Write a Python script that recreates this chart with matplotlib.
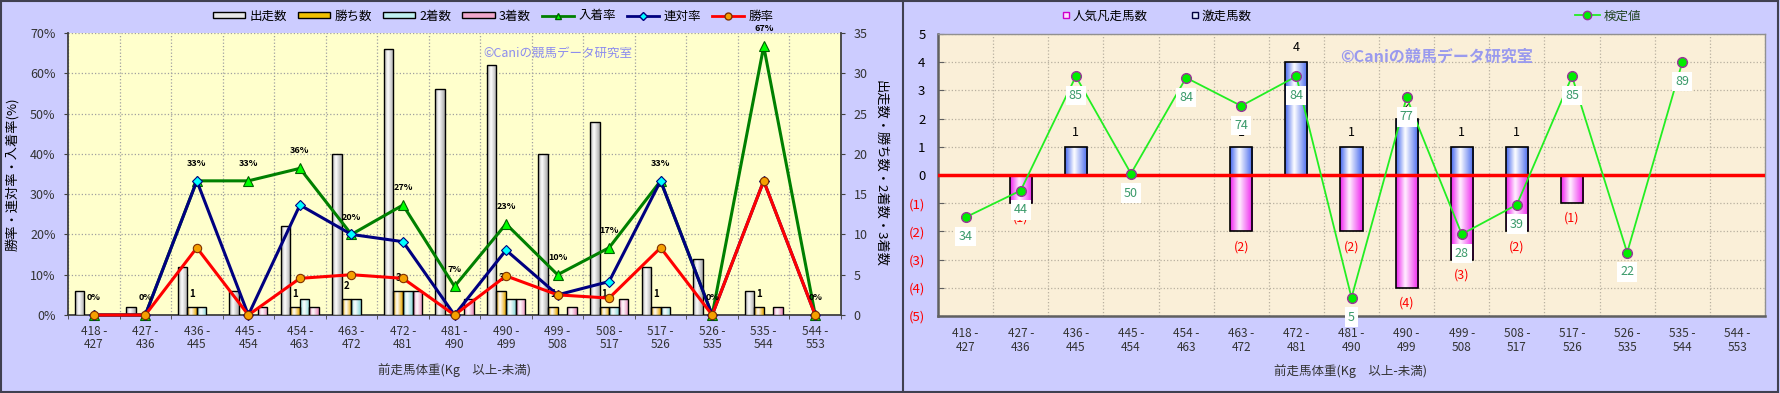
import numpy as np
import matplotlib.pyplot as plt
from matplotlib.colors import LinearSegmentedColormap
from matplotlib.lines import Line2D
from matplotlib.patches import Patch, Rectangle

plt.rcParams['font.family'] = ['Noto Sans CJK JP', 'DejaVu Sans']

W, H = 1780, 393

categories = ['418 -\n427', '427 -\n436', '436 -\n445', '445 -\n454', '454 -\n463',
              '463 -\n472', '472 -\n481', '481 -\n490', '490 -\n499', '499 -\n508',
              '508 -\n517', '517 -\n526', '526 -\n535', '535 -\n544', '544 -\n553']

# left chart: counts
runs = [3, 1, 6, 3, 11, 20, 33, 28, 31, 20, 24, 6, 7, 3, 0]
wins = [0, 0, 1, 0, 1, 2, 3, 0, 3, 1, 1, 1, 0, 1, 0]
seconds = [0, 0, 1, 0, 2, 2, 3, 0, 2, 0, 1, 1, 0, 0, 0]
thirds = [0, 0, 0, 1, 1, 0, 3, 2, 2, 1, 2, 0, 0, 1, 0]

# left chart: rates (%)
win_rate = [0, 0, 16.7, 0, 9.1, 10.0, 9.1, 0, 9.7, 5.0, 4.2, 16.7, 0, 33.3, 0]
quinella_rate = [0, 0, 33.3, 0, 27.3, 20.0, 18.2, 0, 16.1, 5.0, 8.3, 33.3, 0, 33.3, 0]
place_rate = [0, 0, 33.3, 33.3, 36.4, 20.0, 27.3, 7.1, 22.6, 10.0, 16.7, 33.3, 0, 66.7, 0]
place_labels = ['0%', '0%', '33%', '33%', '36%', '20%', '27%', '7%', '23%', '10%',
                '17%', '33%', '0%', '67%', '0%']

# right chart
surge = [0, 0, 1, 0, 0, 1, 4, 1, 2, 1, 1, 0, 0, 0, 0]
flop = [0, -1, 0, 0, 0, -2, 0, -2, -4, -3, -2, -1, 0, 0, 0]
test_pos = [-1.5, -0.55, 3.5, 0.05, 3.45, 2.45, 3.5, -4.35, 2.75, -2.1, -1.05, 3.5, -2.75, 4.0, np.nan]
test_labels = ['34', '44', '85', '50', '84', '74', '84', '5', '77', '28', '39', '85', '22', '89', '']

x = np.arange(len(categories))


def shade(ax, bars, color, mid='white'):
    cmap = LinearSegmentedColormap.from_list('g', [(0, color), (0.4, mid), (1, color)])
    grad = np.linspace(0, 1, 64).reshape(1, -1)
    for b in bars:
        h = b.get_height()
        if h == 0:
            b.set_visible(False)
            continue
        bx, by = b.get_xy()
        im = ax.imshow(grad, cmap=cmap, extent=(bx, bx + b.get_width(), by, by + h),
                       aspect='auto', interpolation='bicubic', zorder=b.get_zorder() - 0.1)
        im.set_clip_path(b)


def px_axes(l, t, r, b):
    return fig.add_axes([l / W, 1 - b / H, (r - l) / W, (b - t) / H])


fig = plt.figure(figsize=(W / 100, H / 100), dpi=100)
fig.patch.set_facecolor('#CCCCFF')
fig.add_artist(Rectangle((0.0005, 0.002), 903 / W, 0.995, transform=fig.transFigure,
                         facecolor='#CCCCFF', edgecolor='#404050', lw=1.5, zorder=-10))
fig.add_artist(Rectangle((903 / W, 0.002), 1 - 903 / W - 0.001, 0.995, transform=fig.transFigure,
                         facecolor='#CCCCFF', edgecolor='#404050', lw=1.5, zorder=-10))

# ---------------- left chart ----------------
ax = px_axes(68, 33, 841, 315)
axl = ax.twinx()
ax.set_facecolor('#FFFFCC')
bw = 0.185
bar_specs = [(runs, '#A8A8A8'), (wins, '#E8A800'), (seconds, '#88D8D8'), (thirds, '#E888B8')]
for i, (vals, col) in enumerate(bar_specs):
    bars = ax.bar(x + (i - 1.5) * bw, vals, bw, facecolor='none', edgecolor='black',
                  lw=1.0, zorder=3)
    shade(ax, bars, col)
for xi, v in zip(x, wins):
    if v > 0:
        ax.annotate(str(v), (xi - 0.5 * bw, v), xytext=(0, 9), textcoords='offset points',
                    ha='center', va='center', fontsize=7, fontweight='bold', zorder=6)

ax.set_xlim(-0.5, len(x) - 0.5)
ax.set_ylim(0, 35)
ax.set_xticks(x, categories)
ax.set_xticks(np.arange(-0.5, len(x)), minor=True)
ax.set_yticks(np.arange(0, 36, 5))
ax.yaxis.tick_right()
ax.yaxis.set_label_position('right')
ax.grid(which='major', axis='y', color='#A0A0A0', ls=':', lw=0.9)
ax.grid(which='minor', axis='x', color='#A0A0A0', ls=':', lw=0.9)
ax.set_axisbelow(True)
ax.tick_params(axis='x', which='major', length=0, pad=7, labelsize=8.5, labelcolor='#333333')
ax.tick_params(axis='x', which='minor', length=3, color='#404040')
ax.tick_params(axis='y', length=3, pad=6, labelsize=9, labelcolor='#333333', color='#404040')
for lbl in ax.get_xticklabels():
    lbl.set_linespacing(1.05)
ax.set_ylabel('出走数・勝ち数・2着数・3着数', rotation=270, fontsize=9.5, labelpad=14)
ax.spines['top'].set_visible(False)
for s in ['left', 'bottom', 'right']:
    ax.spines[s].set_color('#404040')
    ax.spines[s].set_linewidth(1.3)

axl.yaxis.tick_left()
axl.yaxis.set_label_position('left')
axl.set_ylim(0, 70)
axl.set_yticks(np.arange(0, 71, 10), [f'{v}%' for v in range(0, 71, 10)])
axl.tick_params(axis='y', length=3, pad=6, labelsize=9, labelcolor='#333333', color='#404040')
axl.set_ylabel('勝率・連対率・入着率(%)', fontsize=9.5, labelpad=8)
for s in axl.spines.values():
    s.set_visible(False)

axl.plot(x, place_rate, color='#008000', lw=2.2, marker='^', ms=7, mfc='#00FF00',
         mec='#006000', mew=0.8, zorder=4, clip_on=False)
axl.plot(x, quinella_rate, color='#000080', lw=2.2, marker='D', ms=5, mfc='#00FFFF',
         mec='#000080', mew=0.8, zorder=4, clip_on=False)
axl.plot(x, win_rate, color='#FF0000', lw=2.2, marker='o', ms=6, mfc='#F5A000',
         mec='#803000', mew=0.8, zorder=4, clip_on=False)
for xi, v, t in zip(x, place_rate, place_labels):
    axl.annotate(t, (xi, v), xytext=(0, 12.5), textcoords='offset points', ha='center',
                 va='center', fontsize=6.5, fontweight='bold', zorder=6, annotation_clip=False)

fig.text(483 / W, 1 - 53 / H, '©Caniの競馬データ研究室', fontsize=9, color='#8C8CEE',
         ha='left', va='center')
fig.text(455 / W, 1 - 370 / H, '前走馬体重(Kg\u3000以上-未満)', fontsize=9, color='#333333',
         ha='center', va='center')

left_handles = [
    Patch(facecolor='#E8E8E8', edgecolor='black', label='出走数'),
    Patch(facecolor='#F0C000', edgecolor='black', label='勝ち数'),
    Patch(facecolor='#C0F0F0', edgecolor='black', label='2着数'),
    Patch(facecolor='#F0A8CC', edgecolor='black', label='3着数'),
    Line2D([], [], color='#008000', lw=2, marker='^', ms=5, mfc='#00FF00', mec='#006000', label='入着率'),
    Line2D([], [], color='#000080', lw=2, marker='D', ms=4, mfc='#00FFFF', mec='#000080', label='連対率'),
    Line2D([], [], color='#FF0000', lw=2, marker='o', ms=5, mfc='#F5A000', mec='#803000', label='勝率'),
]
fig.legend(handles=left_handles, loc='center', bbox_to_anchor=(493 / W, 1 - 16 / H), ncol=7,
           frameon=False, fontsize=9, handlelength=2.6, handleheight=0.45,
           handletextpad=0.3, columnspacing=0.9)

# ---------------- right chart ----------------
axr = px_axes(938, 34, 1765, 316)
axr.set_facecolor('#FAEFD8')
rb = 0.4
sb = axr.bar(x, surge, rb, facecolor='none', edgecolor='black', lw=1.2, zorder=3)
shade(axr, sb, '#4466EE')
fb = axr.bar(x, flop, rb, facecolor='none', edgecolor='black', lw=1.2, zorder=3)
shade(axr, fb, '#EE22EE', mid='#FFF0FF')
axr.axhline(0, color='#FF0000', lw=2.5, zorder=4)
for xi, v in zip(x, surge):
    if v > 0:
        axr.annotate(str(v), (xi, v), xytext=(0, 10.5), textcoords='offset points',
                     ha='center', va='center', fontsize=9, zorder=5)
for xi, v in zip(x, flop):
    if v < 0:
        axr.annotate(f'({-v})', (xi, v), xytext=(0, -11), textcoords='offset points',
                     ha='center', va='center', fontsize=9, color='#FF0000', zorder=5)

axr.plot(x, test_pos, color='#22EE22', lw=1.3, marker='o', ms=7, mfc='#00EE00',
         mec='#993399', mew=1.0, zorder=6)
for xi, v, t in zip(x, test_pos, test_labels):
    if t:
        axr.annotate(t, (xi, v), xytext=(0, -14), textcoords='offset points', ha='center',
                     va='center', fontsize=9, color='#3A9A6A', zorder=7,
                     bbox=dict(boxstyle='square,pad=0.25', facecolor='white', edgecolor='none'))

axr.set_xlim(-0.5, len(x) - 0.5)
axr.set_ylim(-5, 5)
yt = np.arange(-5, 6)
axr.set_yticks(yt, [f'({-v})' if v < 0 else str(v) for v in yt])
for lbl, v in zip(axr.get_yticklabels(), yt):
    lbl.set_color('#FF0000' if v < 0 else 'black')
axr.set_xticks(x, categories)
axr.set_xticks(np.arange(-0.5, len(x)), minor=True)
axr.grid(which='major', axis='y', color='#B8B0A0', ls=':', lw=0.9)
axr.grid(which='minor', axis='x', color='#B8B0A0', ls=':', lw=0.9)
axr.set_axisbelow(True)
axr.tick_params(axis='x', which='major', length=0, pad=8, labelsize=8.5, labelcolor='#333333')
axr.tick_params(axis='x', which='minor', length=0)
axr.tick_params(axis='y', direction='in', length=4, pad=9, labelsize=9.5, color='#606060')
for lbl in axr.get_xticklabels():
    lbl.set_linespacing(1.05)
for s in ['top', 'right']:
    axr.spines[s].set_color('#909090')
    axr.spines[s].set_linewidth(1.0)
for s in ['left', 'bottom']:
    axr.spines[s].set_color('#606060')
    axr.spines[s].set_linewidth(1.8)

fig.text(1340 / W, 1 - 57 / H, '©Caniの競馬データ研究室', fontsize=11.5, fontweight='bold',
         color='#9A9AEE', ha='left', va='center', zorder=8)
fig.text(1351 / W, 1 - 371 / H, '前走馬体重(Kg\u3000以上-未満)', fontsize=9, color='#333333',
         ha='center', va='center')

right_handles = [
    Line2D([], [], ls='none', marker='s', ms=5, mfc='#FFE0FF', mec='#CC00CC', label='人気凡走馬数'),
    Line2D([], [], ls='none', marker='s', ms=5, mfc='#E0E8FF', mec='#000040', label='激走馬数'),
]
fig.legend(handles=right_handles, loc='center', bbox_to_anchor=(1157 / W, 1 - 16 / H), ncol=2,
           frameon=False, fontsize=9, handlelength=0.6, handletextpad=0.2, columnspacing=3.5)
fig.legend(handles=[Line2D([], [], color='#22EE22', lw=1.3, marker='o', ms=6, mfc='#00EE00',
                           mec='#993399', label='検定値')],
           loc='center', bbox_to_anchor=(1608 / W, 1 - 16 / H), frameon=False, fontsize=9,
           handlelength=2.0, handletextpad=0.3, labelcolor='#224422')

fig.savefig('out.png', dpi=100, facecolor=fig.get_facecolor())
